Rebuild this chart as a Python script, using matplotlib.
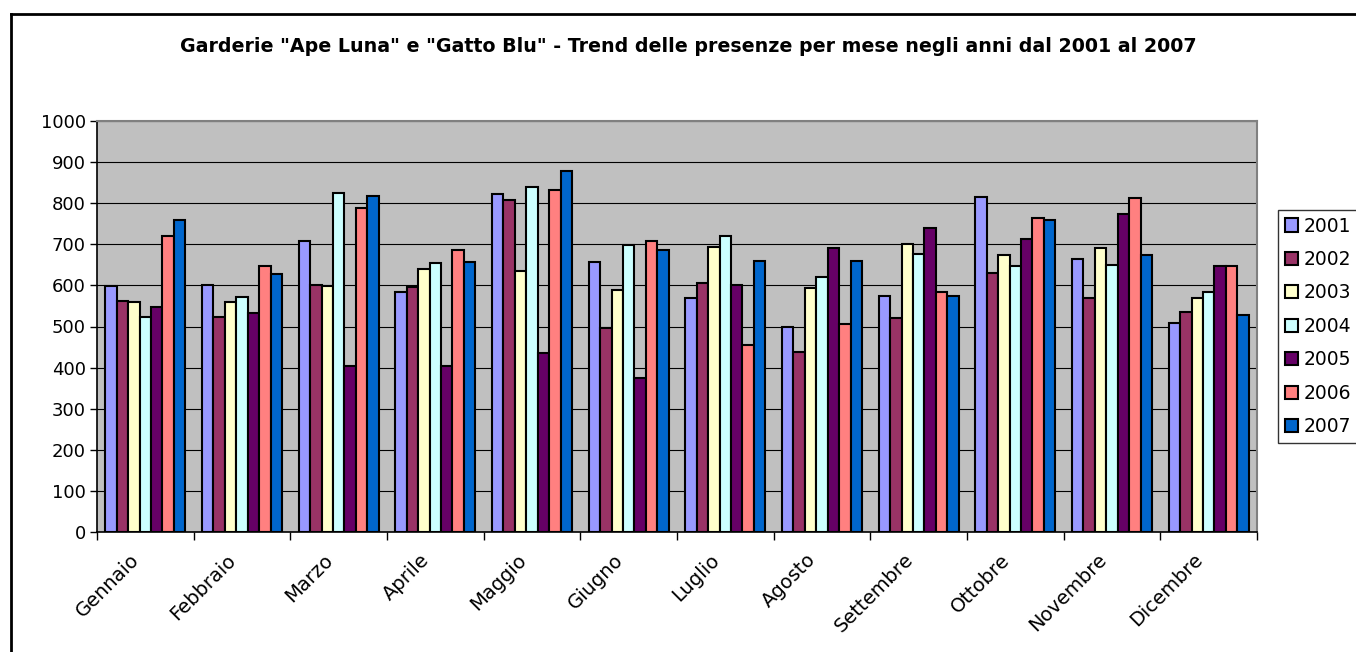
import matplotlib
matplotlib.use("Agg")
import matplotlib.pyplot as plt
from matplotlib.lines import Line2D
import numpy as np

plt.rcParams['font.family'] = ['DejaVu Sans']

mesi = ["Gennaio", "Febbraio", "Marzo", "Aprile", "Maggio", "Giugno",
        "Luglio", "Agosto", "Settembre", "Ottobre", "Novembre", "Dicembre"]
anni = ["2001", "2002", "2003", "2004", "2005", "2006", "2007"]

v2001 = [599, 600, 709, 584, 823, 657, 569, 499, 575, 814, 665, 508]
v2002 = [562, 522, 602, 596, 809, 497, 606, 438, 520, 630, 570, 535]
v2003 = [559, 559, 599, 639, 636, 588, 694, 593, 700, 673, 690, 569]
v2004 = [524, 572, 825, 655, 840, 699, 719, 621, 676, 647, 650, 585]
v2005 = [547, 532, 404, 403, 436, 375, 602, 691, 739, 712, 774, 648]
v2006 = [720, 646, 788, 686, 831, 709, 456, 506, 585, 763, 812, 648]
v2007 = [760, 628, 818, 657, 878, 686, 660, 659, 575, 760, 673, 528]
serie = [v2001, v2002, v2003, v2004, v2005, v2006, v2007]

colori = ["#9999FF", "#993366", "#FFFFCC", "#CCFFFF", "#660066", "#FF8080", "#0066CC"]

W, H = 1356, 652
fig = plt.figure(figsize=(W / 100, H / 100), dpi=100)
fig.patch.set_facecolor("white")

ax = fig.add_axes([97 / W, 1 - 532 / H, (1257 - 97) / W, (532 - 121) / H])
ax.set_facecolor("#C0C0C0")

x = np.arange(len(mesi))
bw = 0.118
for i, (vals, col, lab) in enumerate(zip(serie, colori, anni)):
    ax.bar(x + (i - 3) * bw, vals, width=bw, color=col, edgecolor="black",
           linewidth=1.5, label=lab, zorder=3)

ax.set_xlim(-0.5, len(mesi) - 0.5)
ax.set_ylim(0, 1000)
ax.set_yticks(np.arange(0, 1001, 100))
ax.yaxis.grid(True, color="black", linewidth=0.8, zorder=1)
ax.set_axisbelow(True)

ax.set_xticks(np.arange(-0.5, len(mesi), 1.0))
ax.set_xticklabels([])
ax.set_xticks(x - 0.09, minor=True)
ax.set_xticklabels(mesi, minor=True, rotation=45, ha="right", va="center",
                   rotation_mode="anchor", fontsize=14)
ax.tick_params(axis="x", which="major", direction="out", length=6, width=1, color="black")
ax.tick_params(axis="x", which="minor", length=0, pad=18)
ax.tick_params(axis="y", direction="out", length=5, width=1, labelsize=13, pad=3)

for s in ["top", "right"]:
    ax.spines[s].set_color("#808080")
    ax.spines[s].set_linewidth(1.5)
for s in ["left", "bottom"]:
    ax.spines[s].set_color("black")
    ax.spines[s].set_linewidth(1.2)

fig.text(688 / W, 1 - 47 / H,
         'Garderie "Ape Luna" e "Gatto Blu" - Trend delle presenze per mese negli anni dal 2001 al 2007',
         ha="center", va="center", fontsize=13.7, fontweight="bold")

leg = ax.legend(loc="upper left", bbox_to_anchor=(1278 / W, 1 - 210 / H),
                bbox_transform=fig.transFigure, borderaxespad=0, fontsize=13.5,
                frameon=True, fancybox=False, edgecolor="black",
                handlelength=0.7, handleheight=0.7, handletextpad=0.3,
                labelspacing=0.77, borderpad=0.35)
leg.get_frame().set_linewidth(1.0)
for h in leg.legend_handles:
    h.set_linewidth(1.5)

# outer chart border (top and left visible)
fig.add_artist(Line2D([11 / W, 1.0], [1 - 14 / H, 1 - 14 / H], transform=fig.transFigure,
                      color="black", linewidth=2))
fig.add_artist(Line2D([11 / W, 11 / W], [0.0, 1 - 14 / H], transform=fig.transFigure,
                      color="black", linewidth=2))

fig.savefig("out.png", dpi=100)
